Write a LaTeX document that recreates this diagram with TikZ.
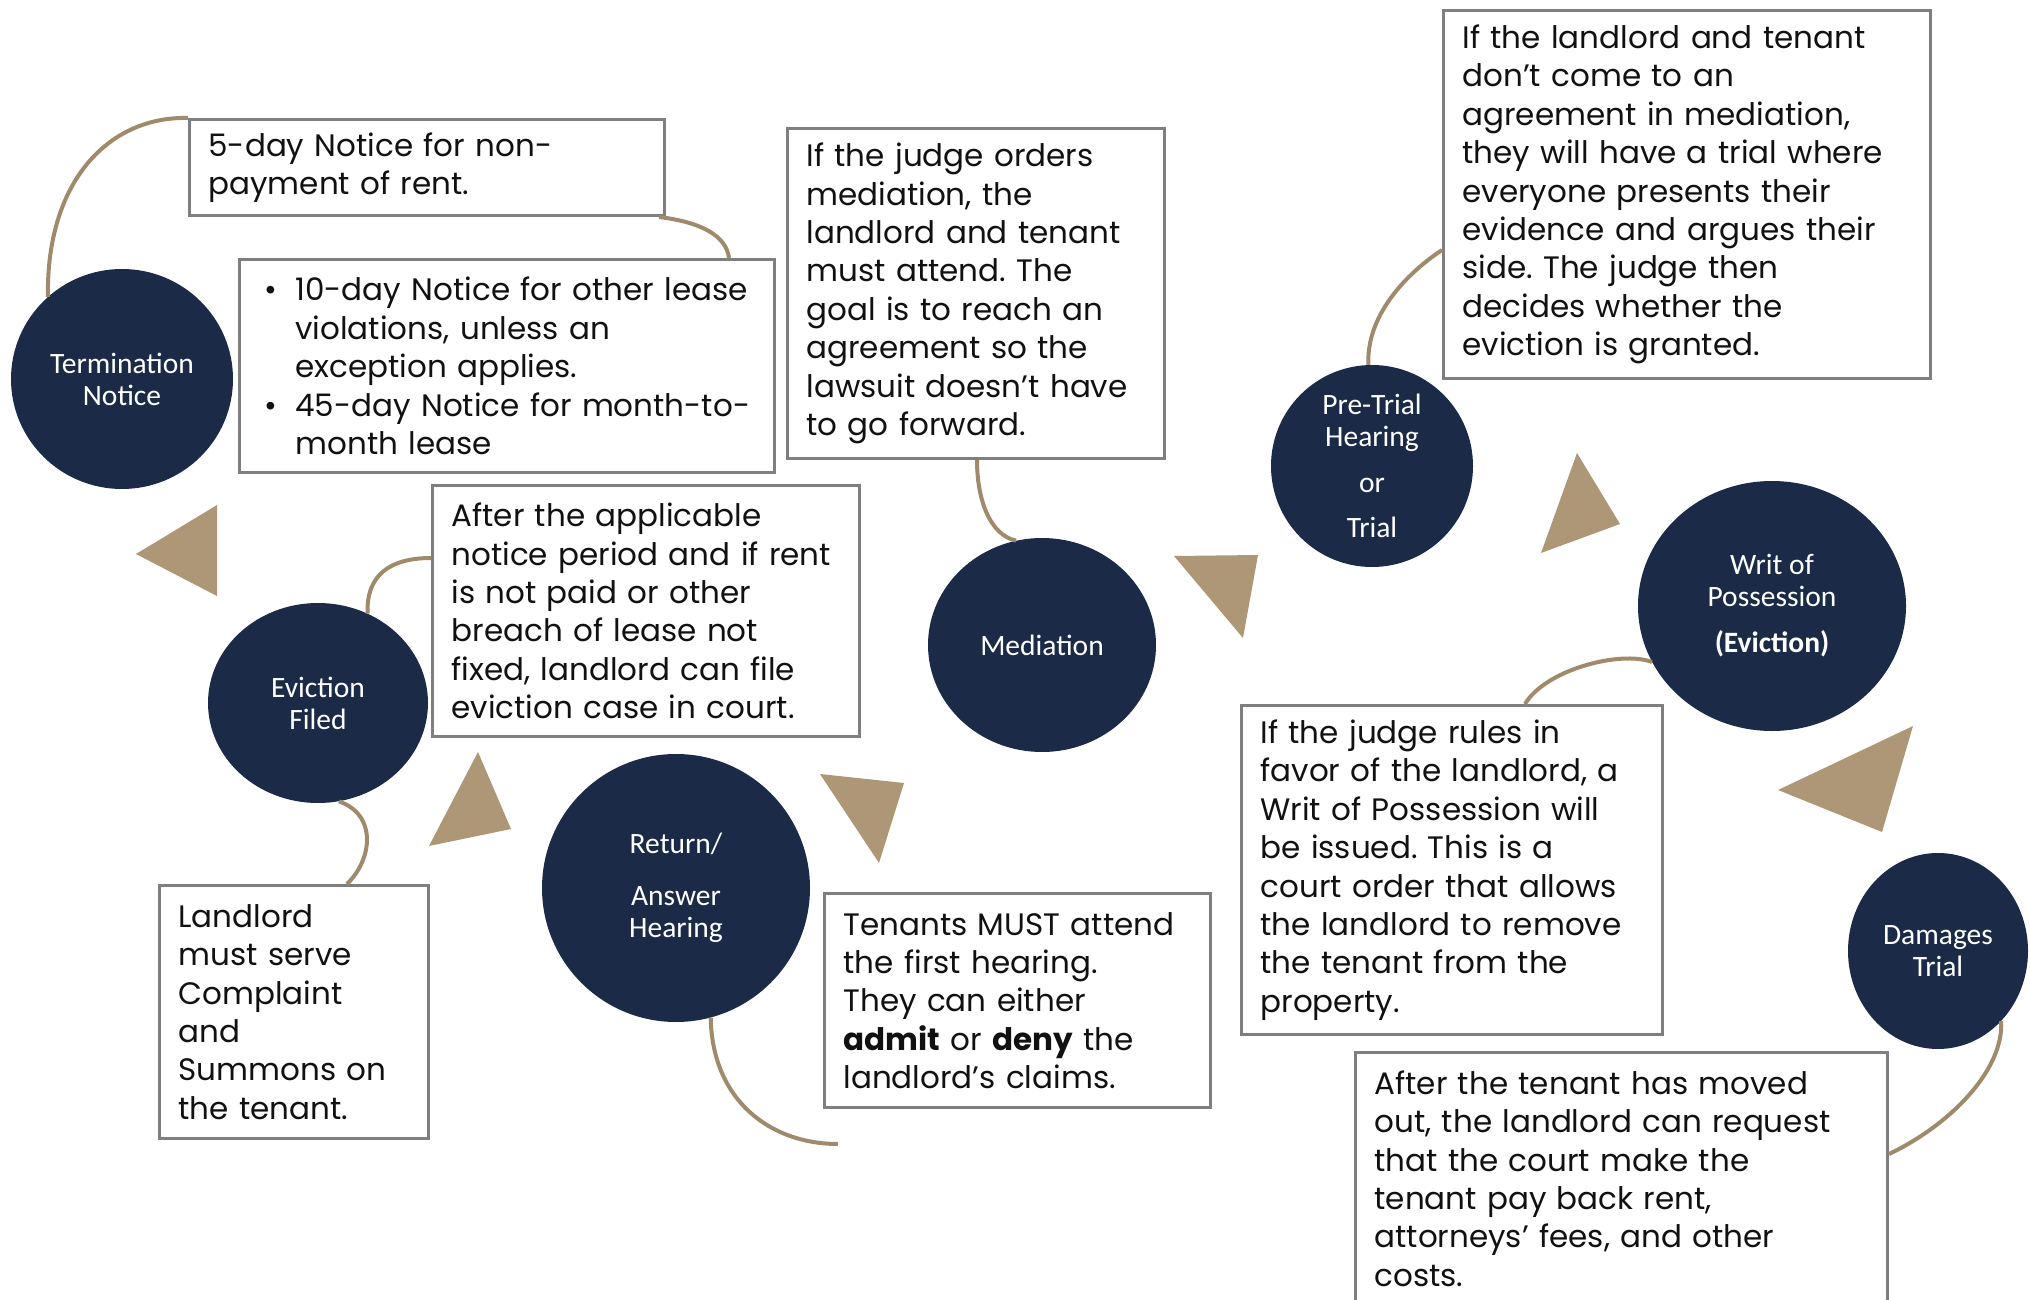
\documentclass[tikz,border=0pt]{standalone}
\usepackage{fontspec}
\setmainfont{Poppins}
\newfontfamily\circlefont{Carlito}
\usepackage{tikz}
\usetikzlibrary{shapes.geometric}
\frenchspacing

\definecolor{navy}{HTML}{1B2A47}
\definecolor{tanfill}{HTML}{AD9776}
\definecolor{tanline}{HTML}{9F8A6B}
\definecolor{boxgray}{HTML}{7F7F7F}
\definecolor{inktext}{HTML}{111111}

\tikzset{
  stage/.style={ellipse, fill=navy, inner sep=0pt},
  stagetext/.style={text=white, align=center, inner sep=0pt,
    font=\circlefont\fontsize{29.5}{32}\selectfont},
  infobox/.style={draw=boxgray, line width=3pt, fill=white, anchor=north west,
    inner xsep=19pt, inner ysep=0pt, align=left, text=inktext,
    font=\fontsize{31}{38.4}\selectfont},
  link/.style={draw=tanline, line width=4pt},
  pointer/.style={fill=tanfill}
}

\begin{document}
\begin{tikzpicture}[x=1pt, y=-1pt]
  \useasboundingbox (0,0) rectangle (2030,1300);

  % stages
  \node[stage, minimum width=222pt, minimum height=220pt,
    label={[stagetext]center:Termination\\Notice}] (termNotice) at (122,379) {};
  \node[stage, minimum width=220pt, minimum height=200pt,
    label={[stagetext]center:Eviction\\Filed}] (evFiled) at (318,703) {};
  \node[stage, minimum width=268pt, minimum height=268pt,
    label={[stagetext]center:Return/\\[20pt]Answer\\Hearing}] (returnHearing) at (676,888) {};
  \node[stage, minimum width=228pt, minimum height=214pt,
    label={[stagetext]center:Mediation}] (mediation) at (1042,645) {};
  \node[stage, minimum width=202pt, minimum height=202pt,
    label={[stagetext]center:Pre-Trial\\Hearing\\[14pt]or\\[13pt]Trial}] (preTrial) at (1372,466) {};
  \node[stage, minimum width=268pt, minimum height=250pt,
    label={[stagetext]center:Writ of\\Possession\\[14pt]\textbf{(Eviction)}}] (writ) at (1772,606) {};
  \node[stage, minimum width=180pt, minimum height=196pt,
    label={[stagetext]center:Damages\\Trial}] (damages) at (1938,951) {};

  % info boxes
  \node[infobox, minimum width=475pt, minimum height=96pt, text width=437pt] (bxA) at (188,118)
    {5-day Notice for non-\\payment of rent.};
  \node[infobox, minimum width=535pt, minimum height=213pt, text width=497pt] (bxB) at (238,258)
    {\hspace*{6pt}\makebox[31pt][l]{\textbullet}10-day Notice for other lease\\
     \hspace*{37pt}violations, unless an\\
     \hspace*{37pt}exception applies.\\
     \hspace*{6pt}\makebox[31pt][l]{\textbullet}45-day Notice for month-to-\\
     \hspace*{37pt}month lease};
  \node[infobox, minimum width=427pt, minimum height=251pt, text width=389pt] (bxC) at (431,484)
    {After the applicable\\notice period and if rent\\is not paid or other\\breach of lease not\\
     fixed, landlord can file\\eviction case in court.};
  \node[infobox, minimum width=269pt, minimum height=253pt, text width=231pt] (bxD) at (158,884)
    {Landlord\\must serve\\Complaint\\and\\Summons on\\the tenant.};
  \node[infobox, minimum width=377pt, minimum height=330pt, text width=339pt] (bxE) at (786,127)
    {If the judge orders\\mediation, the\\landlord and tenant\\must attend. The\\
     goal is to reach an\\agreement so the\\lawsuit doesn’t have\\to go forward.};
  \node[infobox, minimum width=386pt, minimum height=214pt, text width=348pt] (bxF) at (823,892)
    {Tenants MUST attend\\the first hearing.\\They can either\\
     \textbf{admit} or \textbf{deny} the\\landlord’s claims.};
  \node[infobox, minimum width=487pt, minimum height=368pt, text width=449pt] (bxG) at (1442,9)
    {If the landlord and tenant\\don’t come to an\\agreement in mediation,\\
     they will have a trial where\\everyone presents their\\evidence and argues their\\
     side. The judge then\\decides whether the\\eviction is granted.};
  \node[infobox, minimum width=421pt, minimum height=329pt, text width=383pt] (bxH) at (1240,704)
    {If the judge rules in\\favor of the landlord, a\\Writ of Possession will\\
     be issued. This is a\\court order that allows\\the landlord to remove\\
     the tenant from the\\property.};
  \node[infobox, minimum width=532pt, minimum height=252pt, text width=494pt] (bxI) at (1354,1051)
    {After the tenant has moved\\out, the landlord can request\\that the court make the\\
     tenant pay back rent,\\attorneys’ fees, and other\\costs.};

  % connectors
  \coordinate (retEnd) at (838,1144);
  \draw[link] (termNotice.132) .. controls (46,180) and (110,116) .. (bxA.north west);
  \draw[link] ([xshift=-7pt]bxA.south east) .. controls (700,222) and (726,235) .. ([xshift=-47pt]bxB.north east);
  \draw[link] (evFiled.61) .. controls (366,575) and (390,558) .. ([yshift=-74pt]bxC.north west);
  \draw[link] (evFiled.-78) .. controls (378,815) and (372,860) .. ([xshift=189pt]bxD.north west);
  \draw[link] ([xshift=191pt]bxE.south west) .. controls (977,500) and (990,535) .. (mediation.104);
  \draw[link] (returnHearing.-75) .. controls (712,1100) and (770,1144) .. (retEnd);
  \draw[link] (preTrial.92) .. controls (1366,320) and (1400,278) .. ([yshift=-241pt]bxG.north west);
  \draw[link] (writ.205) .. controls (1620,650) and (1545,670) .. ([xshift=285pt]bxH.north west);
  \draw[link] (damages.-48) .. controls (2004,1070) and (1950,1125) .. ([yshift=-103pt]bxI.north east);

  % direction triangles
  \foreach \ax/\ay/\bx/\by/\cx/\cy in {136/554/217/505/217/596, 478/752/429/846/511/829,
      820/774/904/783/879/863, 1174/556/1258/555/1243/638,
      1577/453/1620/524/1541/553, 1913/726/1778/790/1882/832}
    \fill[pointer] (\ax,\ay) -- (\bx,\by) -- (\cx,\cy) -- cycle;
\end{tikzpicture}
\end{document}
